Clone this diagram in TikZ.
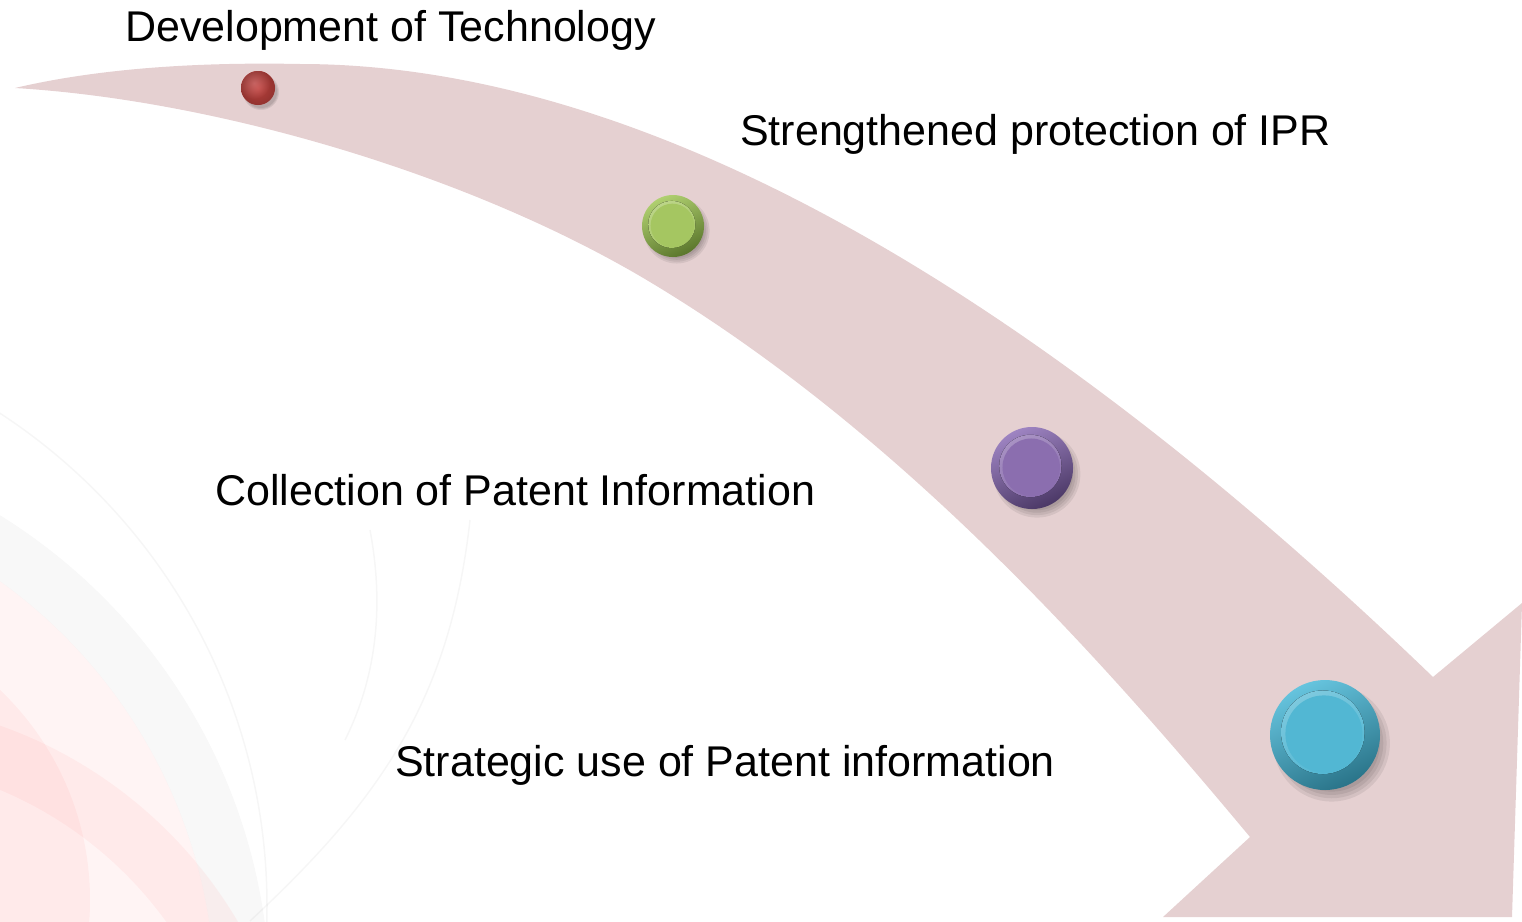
\documentclass[tikz,border=0pt]{standalone}
\usepackage{fontspec}
\setmainfont{Liberation Sans}
\usetikzlibrary{calc}
\definecolor{arrowfill}{RGB}{229,208,209}
\definecolor{bluetop}{HTML}{66C4DE}
\definecolor{bluebot}{HTML}{2A7489}
\definecolor{blueinn}{HTML}{52B7D3}
\definecolor{purtop}{HTML}{9E84C2}
\definecolor{purbot}{HTML}{4B3866}
\definecolor{purinn}{HTML}{8B6EAF}
\definecolor{grntop}{HTML}{B0D070}
\definecolor{grnbot}{HTML}{5A762C}
\definecolor{grninn}{HTML}{A5C661}
\definecolor{redball}{HTML}{B8403C}
\definecolor{redhi}{HTML}{F09090}
\tikzset{
  lbl/.style={anchor=base west, inner sep=0pt, font=\fontsize{43}{50}\selectfont},
  rim/.style={circle, inner sep=0pt, minimum size=#1},
  softshadow/.style={fill=black, opacity=0.07},
  bgpink/.style={fill=red!55!white, opacity=0.08},
  bggray/.style={fill=gray, opacity=0.06},
  bgline/.style={draw=gray, opacity=0.07, line width=1.5pt},
}
\newcommand\mybutton[7]{% name, x, y, r, top, bottom, inner
  \pgfmathsetmacro\rr{#4}
  \coordinate (#1c) at (#2,#3);
  \foreach \s in {1.06,1.0,0.94,0.88}
    \fill[softshadow] ($(#1c)+(0.12*\rr,0.15*\rr)$) circle[radius=\s*\rr pt];
  \node[rim=2*\rr pt, top color=#5, bottom color=#6, shading angle=25] (#1) at (#1c) {};
  \fill[top color=#7!75!white, bottom color=#7, shading angle=25]
    ($(#1c)+(-0.04*\rr,-0.05*\rr)$) circle[radius=0.76*\rr pt];
  \fill[#7] ($(#1c)+(-0.02*\rr,-0.02*\rr)$) circle[radius=0.70*\rr pt];
}
\begin{document}
\begin{tikzpicture}[x=1pt,y=-1pt]
\useasboundingbox (0,0) rectangle (1522,921);
\begin{scope}
\clip (0,0) rectangle (1522,921);
% faint background decoration
\draw[bgline] (-321,906) circle[radius=588pt];
\fill[bggray, even odd rule] (-300,1000) circle[radius=570pt] circle[radius=515pt];
\fill[bgpink] (-300,1000) circle[radius=515pt];
\fill[bgpink] (-200,900) circle[radius=290pt];
\fill[bgpink, even odd rule] (-150,1150) circle[radius=450pt] circle[radius=390pt];
\draw[bgline] (470,520) .. controls (450,700) and (380,800) .. (250,921);
\draw[bgline] (370,530) .. controls (385,610) and (375,680) .. (345,740);
\end{scope}
% arrow
\fill[arrowfill] (15,88) .. controls (100,68) and (200,62) .. (300,64)
  .. controls (620,64) and (1000,260) .. (1433,677)
  -- (1522,603) -- (1512,917) -- (1163,917) -- (1250,837)
  .. controls (1100,657) and (900,432) .. (650,282)
  .. controls (470,174) and (215,100) .. (15,88) -- cycle;
% red sphere
\coordinate (b1c) at (258,88);
\foreach \s in {1.06,1.0,0.94}
  \fill[softshadow] ($(b1c)+(3,4)$) circle[radius=\s*17pt];
\node[rim=34pt, fill=redball] (b1) at (b1c) {};
\begin{scope}
  \clip (b1c) circle[radius=17pt];
  \shade[inner color=redhi, outer color=redball] ($(b1c)+(-4,-5)$) circle[radius=16pt];
  \shade[inner color=redball, outer color=redball!60!black, opacity=0.5] (b1c) circle[radius=17pt];
\end{scope}
% buttons
\mybutton{b2}{673}{226}{31}{grntop}{grnbot}{grninn}
\mybutton{b3}{1032}{468}{41}{purtop}{purbot}{purinn}
\mybutton{b4}{1325}{735}{55}{bluetop}{bluebot}{blueinn}
% labels
\node[lbl] (t1) at (125,41) {Development of Technology};
\node[lbl] (t2) at (740,145) {Strengthened protection of IPR};
\node[lbl] (t3) at (215,505) {Collection of Patent Information};
\node[lbl] (t4) at (395,776) {Strategic use of Patent information};
\end{tikzpicture}
\end{document}
